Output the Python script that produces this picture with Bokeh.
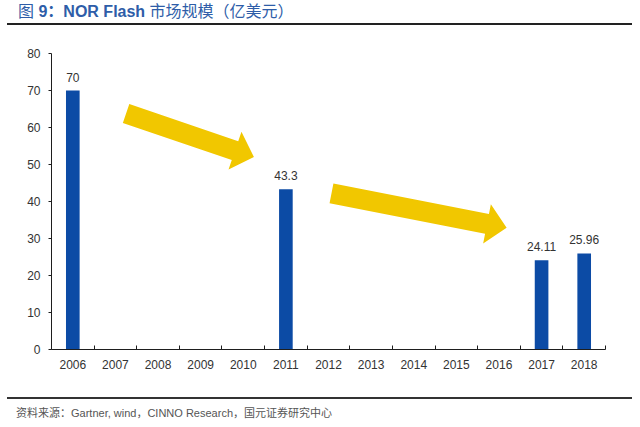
import numpy as np
from bokeh.plotting import figure
from bokeh.models import ColumnDataSource, Range1d, FixedTicker, Div
from bokeh.layouts import column
from bokeh.core.properties import value
from bokeh.embed import file_html
from bokeh.resources import INLINE

# data
years = ["2006", "2007", "2008", "2009", "2010", "2011", "2012",
         "2013", "2014", "2015", "2016", "2017", "2018"]
bar_years = ["2006", "2011", "2017", "2018"]
market_size = [70, 43.3, 24.11, 25.96]

title_cn = "图 "
title_main = "9：NOR Flash"
title_unit = " 市场规模（亿美元）"
source_text = "资料来源：Gartner, wind，CINNO Research，国元证券研究中心"

W = 640
TITLE_H, FOOT_H = 30, 35
LEFT, RIGHT, TOP, BOTTOM = 51, 35, 23, 43
FW, FH = W - LEFT - RIGHT, 296
H = TOP + FH + BOTTOM
XMIN, XMAX, YMIN, YMAX = -0.5, len(years) - 0.5, 0, 80
PX = FW / (XMAX - XMIN)
PY = FH / (YMAX - YMIN)

BLUE = "#0C4BA5"
YELLOW = "#F1C700"
AXIS = "#1E1E1E"
FONTS = "'Liberation Sans','Noto Sans CJK SC',sans-serif"

p = figure(width=W, height=H, output_backend="svg", toolbar_location=None,
           title=None, x_range=Range1d(XMIN, XMAX), y_range=Range1d(YMIN, YMAX),
           min_border_left=LEFT, min_border_right=RIGHT,
           min_border_top=TOP, min_border_bottom=BOTTOM)
p.outline_line_color = None
p.xgrid.grid_line_color = None
p.ygrid.grid_line_color = None

# bars
xs = [years.index(y) for y in bar_years]
src = ColumnDataSource(dict(x=xs, top=market_size,
                            label=[f"{v:g}" for v in market_size]))
p.vbar(x="x", top="top", width=0.32, bottom=0, source=src,
       fill_color=BLUE, line_color=None)
p.text(x="x", y="top", text="label", source=src, text_align="center",
       text_baseline="bottom", y_offset=-9, text_font_size="12px",
       text_color="#333333", text_font=value("Liberation Sans"))

# yellow arrows (tail x, tail y, tip x, tip y) in data units
arrows = [(1.25, 63.8, 4.25, 52.0), (6.07, 42.2, 10.18, 32.9)]
for x0, y0, x1, y1 in arrows:
    a = np.array([x0 * PX, y0 * PY])
    b = np.array([x1 * PX, y1 * PY])
    d = (b - a) / np.linalg.norm(b - a)
    n = np.array([-d[1], d[0]])
    base = b - d * 20
    pts = [a + n * 10, base + n * 10, base + n * 20, b,
           base - n * 20, base - n * 10, a - n * 10]
    p.patch([q[0] / PX for q in pts], [q[1] / PY for q in pts],
            fill_color=YELLOW, line_color=None)

# axes
p.xaxis.ticker = FixedTicker(ticks=list(range(len(years))),
                             minor_ticks=[i - 0.5 for i in range(len(years) + 1)])
p.xaxis.major_label_overrides = {i: y for i, y in enumerate(years)}
p.xaxis.major_tick_line_color = None
p.xaxis.minor_tick_in = 4
p.xaxis.minor_tick_out = 0
p.xaxis.minor_tick_line_color = AXIS
p.xaxis.axis_line_color = AXIS
p.xaxis.major_label_standoff = 4

p.yaxis.ticker = FixedTicker(ticks=list(range(0, 81, 10)))
p.yaxis.major_tick_in = 0
p.yaxis.major_tick_out = 3
p.yaxis.minor_tick_line_color = None
p.yaxis.axis_line_color = AXIS
p.yaxis.major_tick_line_color = AXIS
p.yaxis.major_label_standoff = 8

for ax in (p.xaxis, p.yaxis):
    ax.major_label_text_font_size = "12px"
    ax.major_label_text_color = "#333333"
    ax.major_label_text_font = "Liberation Sans"

# header and footer with their rules
head = Div(width=W, height=TITLE_H, margin=0, text=(
    f'<div style="position:relative;width:{W}px;height:{TITLE_H}px;">'
    f'<div style="position:absolute;left:18px;top:3px;white-space:nowrap;'
    f'font-family:{FONTS};font-size:16px;line-height:18px;color:#2E5DA8;">'
    f'{title_cn}<b>{title_main}</b>{title_unit}</div>'
    f'<div style="position:absolute;left:7px;top:23px;width:625px;'
    f'border-top:2px solid #222;"></div></div>'))
foot = Div(width=W, height=FOOT_H, margin=0, text=(
    f'<div style="position:relative;width:{W}px;height:{FOOT_H}px;">'
    f'<div style="position:absolute;left:7px;top:5px;width:625px;'
    f'border-top:2px solid #333;"></div>'
    f'<div style="position:absolute;left:16px;top:14px;white-space:nowrap;'
    f'font-family:{FONTS};font-size:11px;line-height:14px;color:#555555;">'
    f'{source_text}</div></div>'))

layout = column(head, p, foot, spacing=0)
open("out.html", "w").write(file_html(layout, INLINE))
